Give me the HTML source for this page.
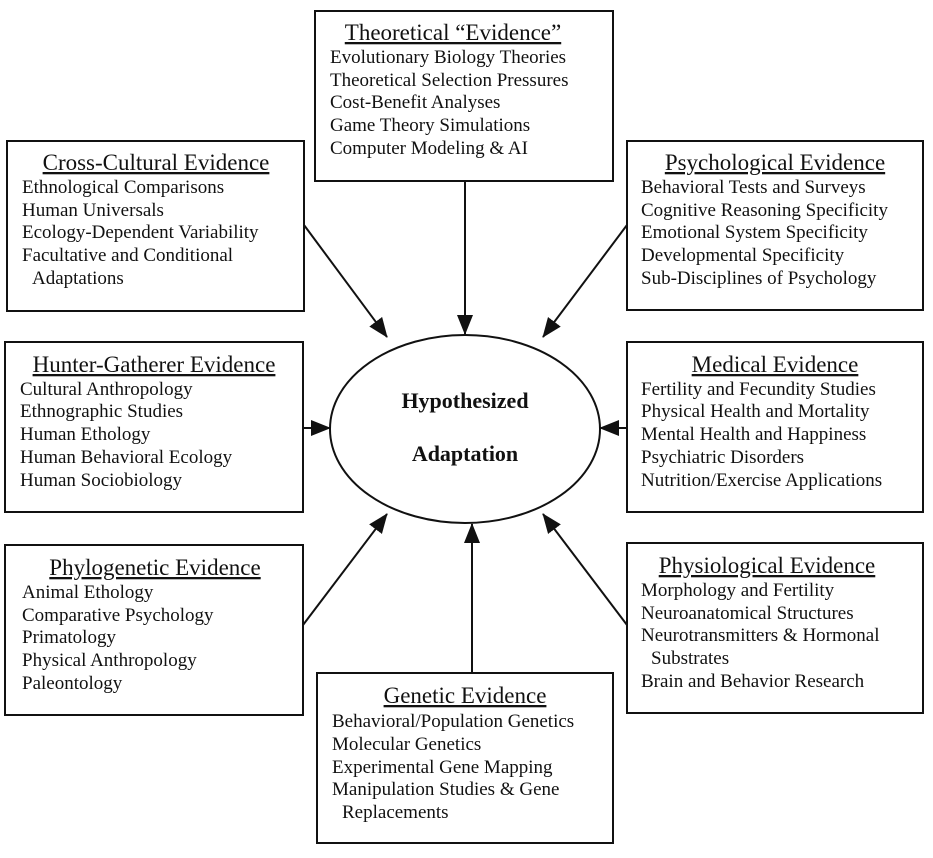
<!DOCTYPE html>
<html><head><meta charset="utf-8"><style>
html,body{margin:0;padding:0;background:#fff;}
svg{display:block}
text{font-family:"Liberation Serif",serif;fill:#111;}
.t{font-size:23px;text-decoration:underline;text-anchor:middle}
.i{font-size:19px}
.b{font-size:22px;font-weight:bold;text-anchor:middle}
rect{fill:none;stroke:#111;stroke-width:2}
line{stroke:#111;stroke-width:2}
</style></head><body>
<svg width="933" height="858" viewBox="0 0 933 858" xmlns="http://www.w3.org/2000/svg">
<defs>
<marker id="a2" markerWidth="20" markerHeight="16" refX="19" refY="8" orient="auto" markerUnits="userSpaceOnUse" viewBox="0 0 20 16"><path d="M0,0 L20,8 L0,16 z" fill="#111"/></marker></defs>

<ellipse cx="465" cy="429" rx="135" ry="94" fill="none" stroke="#111" stroke-width="2"/>
<text class="b" x="465" y="408">Hypothesized</text>
<text class="b" x="465" y="461">Adaptation</text>

<line x1="465" y1="181" x2="465" y2="334" marker-end="url(#a2)"/>
<line x1="304" y1="225" x2="387" y2="337" marker-end="url(#a2)"/>
<line x1="627" y1="225" x2="543" y2="337" marker-end="url(#a2)"/>
<line x1="303" y1="428" x2="330" y2="428" marker-end="url(#a2)"/>
<line x1="627" y1="428" x2="600" y2="428" marker-end="url(#a2)"/>
<line x1="303" y1="625" x2="387" y2="514" marker-end="url(#a2)"/>
<line x1="627" y1="625" x2="543" y2="514" marker-end="url(#a2)"/>
<line x1="472" y1="673" x2="472" y2="524" marker-end="url(#a2)"/>

<rect x="315" y="11" width="298" height="170"/>
<text class="t" x="453" y="40">Theoretical “Evidence”</text>
<text class="i" x="330" y="63">Evolutionary Biology Theories</text>
<text class="i" x="330" y="86">Theoretical Selection Pressures</text>
<text class="i" x="330" y="108">Cost-Benefit Analyses</text>
<text class="i" x="330" y="131">Game Theory Simulations</text>
<text class="i" x="330" y="154">Computer Modeling &amp; AI</text>

<rect x="7" y="141" width="297" height="170"/>
<text class="t" x="156" y="170">Cross-Cultural Evidence</text>
<text class="i" x="22" y="193">Ethnological Comparisons</text>
<text class="i" x="22" y="216">Human Universals</text>
<text class="i" x="22" y="238">Ecology-Dependent Variability</text>
<text class="i" x="22" y="261">Facultative and Conditional</text>
<text class="i" x="32" y="284">Adaptations</text>

<rect x="627" y="141" width="296" height="169"/>
<text class="t" x="775" y="170">Psychological Evidence</text>
<text class="i" x="641" y="193">Behavioral Tests and Surveys</text>
<text class="i" x="641" y="216">Cognitive Reasoning Specificity</text>
<text class="i" x="641" y="238">Emotional System Specificity</text>
<text class="i" x="641" y="261">Developmental Specificity</text>
<text class="i" x="641" y="284">Sub-Disciplines of Psychology</text>

<rect x="5" y="342" width="298" height="170"/>
<text class="t" x="154" y="372">Hunter-Gatherer Evidence</text>
<text class="i" x="20" y="395">Cultural Anthropology</text>
<text class="i" x="20" y="417">Ethnographic Studies</text>
<text class="i" x="20" y="440">Human Ethology</text>
<text class="i" x="20" y="463">Human Behavioral Ecology</text>
<text class="i" x="20" y="486">Human Sociobiology</text>

<rect x="627" y="342" width="296" height="170"/>
<text class="t" x="775" y="372">Medical Evidence</text>
<text class="i" x="641" y="395">Fertility and Fecundity Studies</text>
<text class="i" x="641" y="417">Physical Health and Mortality</text>
<text class="i" x="641" y="440">Mental Health and Happiness</text>
<text class="i" x="641" y="463">Psychiatric Disorders</text>
<text class="i" x="641" y="486">Nutrition/Exercise Applications</text>

<rect x="5" y="545" width="298" height="170"/>
<text class="t" x="155" y="575">Phylogenetic Evidence</text>
<text class="i" x="22" y="598">Animal Ethology</text>
<text class="i" x="22" y="621">Comparative Psychology</text>
<text class="i" x="22" y="643">Primatology</text>
<text class="i" x="22" y="666">Physical Anthropology</text>
<text class="i" x="22" y="689">Paleontology</text>

<rect x="627" y="543" width="296" height="170"/>
<text class="t" x="767" y="573">Physiological Evidence</text>
<text class="i" x="641" y="596">Morphology and Fertility</text>
<text class="i" x="641" y="619">Neuroanatomical Structures</text>
<text class="i" x="641" y="641">Neurotransmitters &amp; Hormonal</text>
<text class="i" x="651" y="664">Substrates</text>
<text class="i" x="641" y="687">Brain and Behavior Research</text>

<rect x="317" y="673" width="296" height="170"/>
<text class="t" x="465" y="703">Genetic Evidence</text>
<text class="i" x="332" y="727">Behavioral/Population Genetics</text>
<text class="i" x="332" y="750">Molecular Genetics</text>
<text class="i" x="332" y="773">Experimental Gene Mapping</text>
<text class="i" x="332" y="795">Manipulation Studies &amp; Gene</text>
<text class="i" x="342" y="818">Replacements</text>
</svg>
</body></html>
